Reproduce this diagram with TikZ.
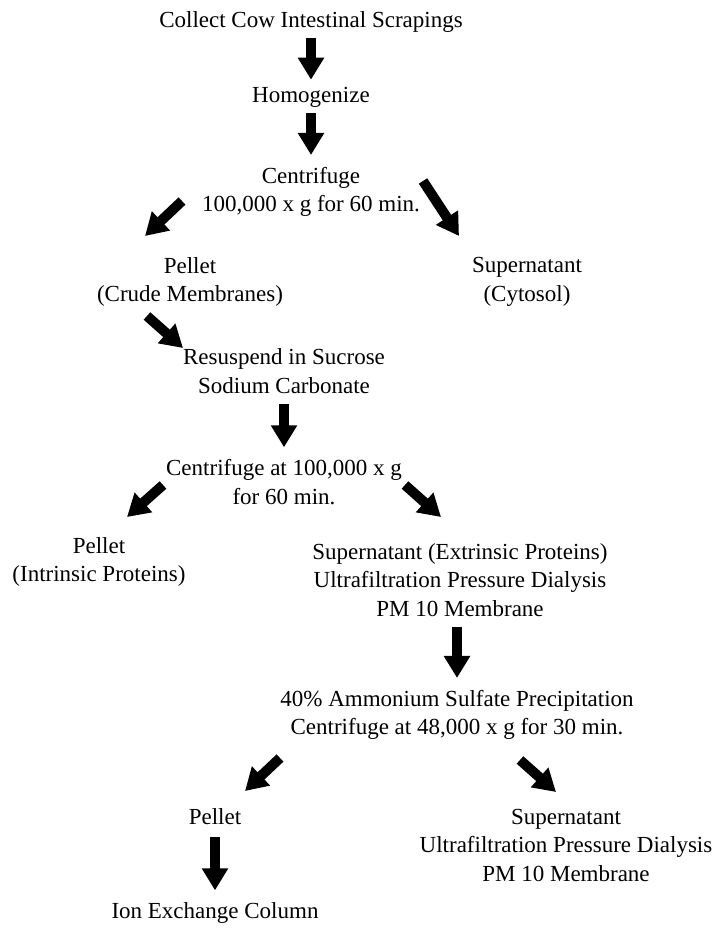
\documentclass[tikz,border=0pt]{standalone}
\usepackage{fontspec}
\setmainfont{Liberation Serif}
\usetikzlibrary{arrows.meta}
\begin{document}
\begin{tikzpicture}
    [
        x=1pt, y=-1pt,
        stage/.style={inner sep=0pt, align=center, font=\fontsize{23}{28.5}\selectfont},
        bigarrow/.style={line width=10pt, -{Triangle[length=22pt,width=25pt]}},
    ]
    \useasboundingbox (0,0) rectangle (716,928);
    % first centrifugation
    \node (collect) at (311,22) [stage] {Collect Cow Intestinal Scrapings};
    \node (homog) at (311,97) [stage] {Homogenize};
    \node (cent1) at (311,192) [stage] {Centrifuge\\100,000 x g for 60 min.};
    \node (pel1) at (190,282) [stage] {Pellet\\(Crude Membranes)};
    \node (sup1) at (527,282) [stage] {Supernatant\\(Cytosol)};
    % carbonate wash
    \node (resus) at (284,371) [stage] {Resuspend in Sucrose\\Sodium Carbonate};
    \node (cent2) at (284,482) [stage] {Centrifuge at 100,000 x g\\for 60 min.};
    \node (pel2) at (99,562) [stage] {Pellet\\(Intrinsic Proteins)};
    \node (sup2) at (460,580) [stage] {Supernatant (Extrinsic Proteins)\\Ultrafiltration Pressure Dialysis\\PM 10 Membrane};
    % ammonium sulfate cut
    \node (ammon) at (457,715) [stage] {40\% Ammonium Sulfate Precipitation\\Centrifuge at 48,000 x g for 30 min.};
    \node (pel3) at (215,817) [stage] {Pellet};
    \node (sup3) at (566,845) [stage] {Supernatant\\Ultrafiltration Pressure Dialysis\\PM 10 Membrane};
    \node (ion) at (215,913) [stage] {Ion Exchange Column};
    % ends of the slanted arrows
    \coordinate (c1l) at (182,201);
    \coordinate (p1t) at (145,236);
    \coordinate (c1r) at (423,181);
    \coordinate (s1t) at (459,236);
    \coordinate (p1b) at (147,316);
    \coordinate (r1t) at (183,348);
    \coordinate (c2l) at (163,485);
    \coordinate (p2t) at (127,517);
    \coordinate (c2r) at (405,485);
    \coordinate (s2t) at (441,517);
    \coordinate (a1l) at (280,758);
    \coordinate (p3t) at (245,791);
    \coordinate (a1r) at (520,760);
    \coordinate (s3t) at (556,792);
    \draw [bigarrow, shorten <=5pt, shorten >=7pt] (collect) -- (homog);
    \draw [bigarrow, shorten <=6pt, shorten >=12pt] (homog) -- (cent1);
    \draw [bigarrow] (c1l) -- (p1t);
    \draw [bigarrow] (c1r) -- (s1t);
    \draw [bigarrow] (p1b) -- (r1t);
    \draw [bigarrow, shorten <=10pt, shorten >=12pt] (resus) -- (cent2);
    \draw [bigarrow] (c2l) -- (p2t);
    \draw [bigarrow] (c2r) -- (s2t);
    \draw [bigarrow, shorten <=10pt, shorten >=12pt] (sup2.south -| ammon) -- (ammon);
    \draw [bigarrow] (a1l) -- (p3t);
    \draw [bigarrow] (a1r) -- (s3t);
    \draw [bigarrow, shorten <=12pt, shorten >=12pt] (pel3) -- (ion);
\end{tikzpicture}
\end{document}
